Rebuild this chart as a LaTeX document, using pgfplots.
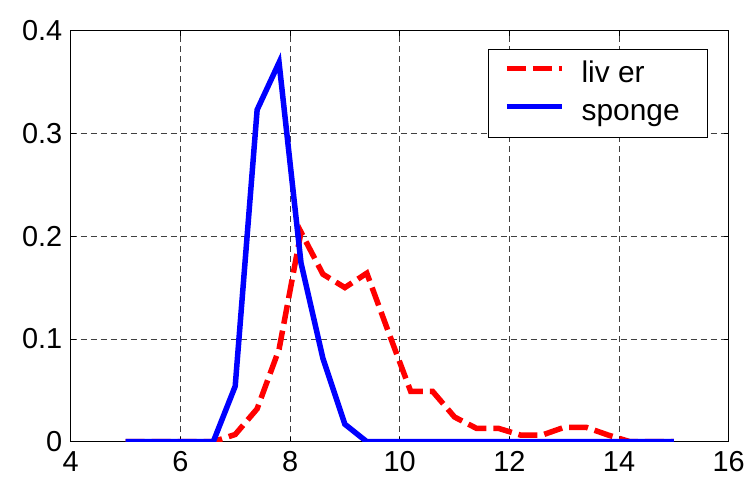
\documentclass[border=0pt]{standalone}
\usepackage{fontspec}
\setmainfont{Liberation Sans}
\usepackage{pgfplots}
\pgfplotsset{compat=1.18}
\begin{document}
\begin{tikzpicture}
\path[use as bounding box] (-70.7bp,-40.3bp) rectangle (678.3bp,441.7bp);
\begin{axis}[
  at={(0,0)}, anchor=south west,
  scale only axis, width=658bp, height=411bp,
  xmin=4, xmax=16, ymin=0, ymax=0.4,
  xtick={4,6,8,10,12,14,16},
  xticklabels={4,6,8,10,12,14,16},
  ytick={0,0.1,0.2,0.3,0.4},
  yticklabels={0,0.1,0.2,0.3,0.4},
  grid=major,
  grid style={dash pattern=on 6bp off 4bp, black!75, line width=0.7bp},
  tick align=inside, major tick length=5bp,
  tick style={black, line width=0.7bp},
  axis line style={black, line width=0.9bp},
  /pgf/number format/assume math mode=true,
  ticklabel style={font=\fontsize{29}{33}\selectfont},
  xticklabel style={yshift=-6bp},
  yticklabel style={xshift=-5bp},
  legend style={at={(0.9686,0.9555)}, anchor=north east, draw=black, line width=0.9bp,
    fill=white, font=\fontsize{30}{34}\selectfont, inner xsep=16bp, inner ysep=9bp,
    row sep=6bp, nodes={inner sep=2bp, text height=22bp, text depth=6bp},
    /tikz/every odd column/.append style={column sep=15bp}},
  legend cell align=left,
  legend image code/.code={\draw[#1] (0bp,6bp) -- (55bp,6bp);},
]
\addplot[red, line width=5.5bp, dash pattern=on 19bp off 7bp] coordinates {
(5.0,0) (5.4,0) (5.8,0) (6.2,0) (6.6,0) (7.0,0.007) (7.4,0.032) (7.8,0.090)
(8.2,0.204) (8.6,0.163) (9.0,0.150) (9.4,0.164) (9.8,0.106) (10.2,0.049)
(10.6,0.049) (11.0,0.024) (11.4,0.013) (11.8,0.013) (12.2,0.0065) (12.6,0.0065)
(13.0,0.014) (13.4,0.014) (13.8,0.0065) (14.2,0) (14.6,0) (15.0,0)};
\addlegendentry{liv er}
\addplot[blue, line width=5.5bp] coordinates {
(5.0,0) (5.4,0) (5.8,0) (6.2,0) (6.6,0) (7.0,0.054) (7.4,0.323) (7.8,0.369)
(8.2,0.174) (8.6,0.081) (9.0,0.017) (9.4,0) (9.8,0) (10.2,0) (10.6,0) (11.0,0)
(11.4,0) (11.8,0) (12.2,0) (12.6,0) (13.0,0) (13.4,0) (13.8,0) (14.2,0) (14.6,0) (15.0,0)};
\addlegendentry{\makebox[108bp][l]{sponge}}
\end{axis}
\end{tikzpicture}
\end{document}
